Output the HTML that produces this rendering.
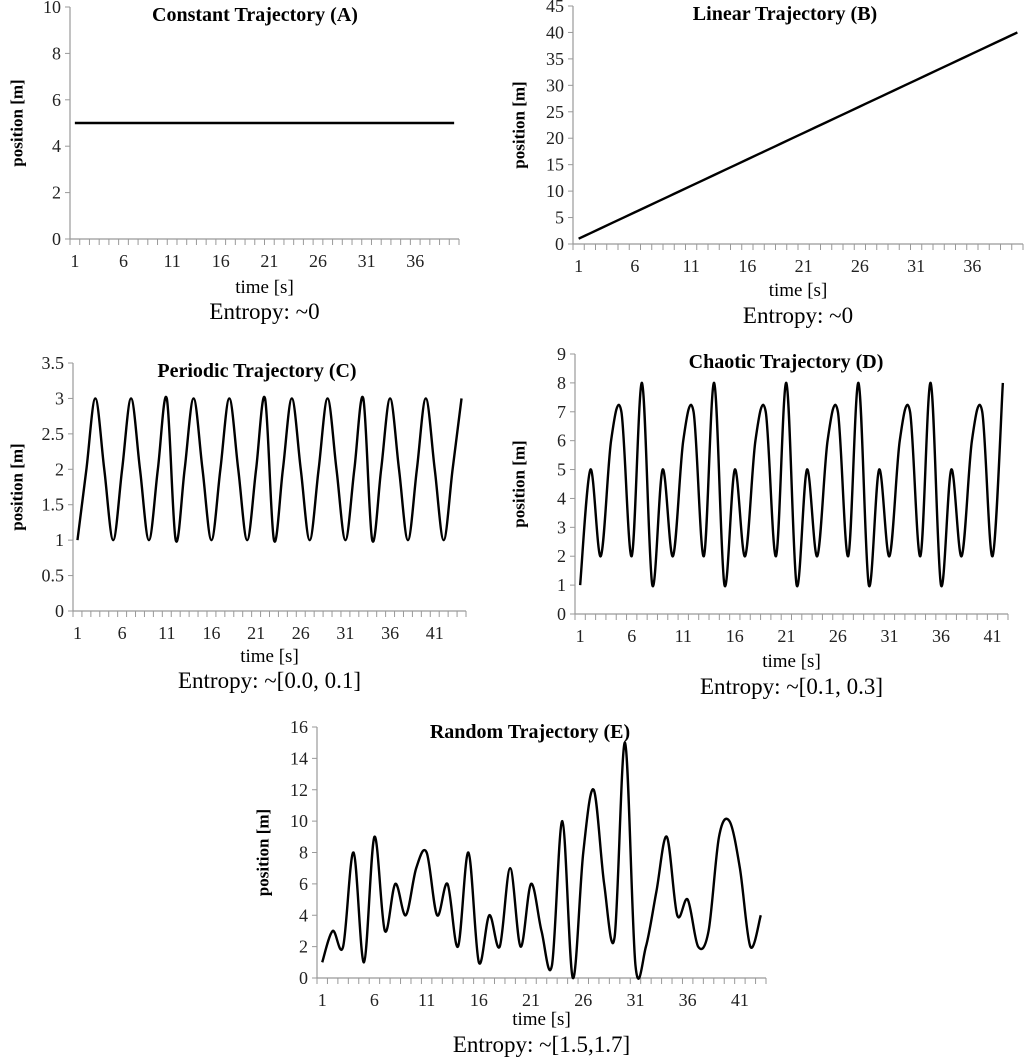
<!DOCTYPE html>
<html><head><meta charset="utf-8">
<style>
html,body{margin:0;padding:0;background:#fff;}
svg{display:block;font-family:"Liberation Serif",serif;}
</style></head>
<body>
<svg id="fig" width="1024" height="1058" viewBox="0 0 1024 1058" xmlns="http://www.w3.org/2000/svg"></svg>
<script>
// ---- data ----
const valuesA = [5,5,5,5,5,5,5,5,5,5,5,5,5,5,5,5,5,5,5,5,5,5,5,5,5,5,5,5,5,5,5,5,5,5,5,5,5,5,5,5];
const ticksA = [0,2,4,6,8,10];
const valuesB = [1,2,3,4,5,6,7,8,9,10,11,12,13,14,15,16,17,18,19,20,21,22,23,24,25,26,27,28,29,30,31,32,33,34,35,36,37,38,39,40];
const ticksB = [0,5,10,15,20,25,30,35,40,45];
const valuesC = [1,2,3,2,1,2,3,2,1,2,3, 1,2,3,2,1,2,3,2,1,2,3, 1,2,3,2,1,2,3,2,1,2,3, 1,2,3,2,1,2,3,2,1,2,3];
const ticksC = [0,0.5,1,1.5,2,2.5,3,3.5];
const valuesD = [1,5,2,6,7,2,8, 1,5,2,6,7,2,8, 1,5,2,6,7,2,8, 1,5,2,6,7,2,8, 1,5,2,6,7,2,8, 1,5,2,6,7,2,8];
const ticksD = [0,1,2,3,4,5,6,7,8,9];
const valuesE = [1,3,2,8,1,9,3,6,4,7,8,4,6,2,8,1,4,2,7,2,6,3,0.8,10,0,8,12,6,2.6,15,0.8,2,5.5,9,4,5,2,3,9,10,7,2,4];
const ticksE = [0,2,4,6,8,10,12,14,16];
const xLabelStep = 5;

const charts = [
 {id:'a', title:'Constant Trajectory (A)', entropy:'Entropy: ~0', vals:valuesA, ticks:ticksA, x0:70, x1:459, yTop:7, yBot:239, ylx:17, titleX:255, titleY:21, timeY:293, entY:319},
 {id:'b', title:'Linear Trajectory (B)', entropy:'Entropy: ~0', vals:valuesB, ticks:ticksB, x0:573, x1:1023, yTop:6, yBot:244, ylx:519, titleX:785, titleY:20, timeY:296, entY:323},
 {id:'c', title:'Periodic Trajectory (C)', entropy:'Entropy: ~[0.0, 0.1]', vals:valuesC, ticks:ticksC, x0:73, x1:466, yTop:363, yBot:611, ylx:17, titleX:257, titleY:377, timeY:662, entY:688},
 {id:'d', title:'Chaotic Trajectory (D)', entropy:'Entropy: ~[0.1, 0.3]', vals:valuesD, ticks:ticksD, x0:575, x1:1008, yTop:354, yBot:614, ylx:519, titleX:786, titleY:368, timeY:667, entY:694},
 {id:'e', title:'Random Trajectory (E)', entropy:'Entropy: ~[1.5,1.7]', vals:valuesE, ticks:ticksE, x0:317, x1:766, yTop:727, yBot:978, ylx:263, titleX:530, titleY:738, timeY:1025, entY:1052}
];

const NS='http://www.w3.org/2000/svg';
const svg=document.getElementById('fig');
function mk(tag,attrs,parent){const e=document.createElementNS(NS,tag);for(const k in attrs)e.setAttribute(k,attrs[k]);(parent||svg).appendChild(e);return e;}

charts.forEach(c=>{
  const g=mk('g',{});
  
  
  const n=c.vals.length;
  const band=(c.x1-c.x0)/n;
  const xs=i=>c.x0+band*(i+0.5);
  const yMax=c.ticks[c.ticks.length-1];
  const ys=v=>c.yBot-(v/yMax)*(c.yBot-c.yTop);
  const ya=mk('line',{x1:c.x0,y1:c.yTop,x2:c.x0,y2:c.yBot,stroke:'#999','stroke-width':1.2},g);
  
  
  const xa=mk('line',{x1:c.x0,y1:c.yBot,x2:c.x1,y2:c.yBot,stroke:'#999','stroke-width':1.2},g);
  
  
  c.ticks.forEach(t=>{
    mk('line',{x1:c.x0-5,y1:ys(t),x2:c.x0,y2:ys(t),stroke:'#999'},g);
    const tl=mk('text',{x:c.x0-9,y:ys(t)+6,'text-anchor':'end','font-size':18,fill:'#222'},g);
    tl.textContent=String(t);
    
    
  });
  for(let i=0;i<=n;i++){
    mk('line',{x1:c.x0+band*i,y1:c.yBot,x2:c.x0+band*i,y2:c.yBot+6,stroke:'#999'},g);
  }
  for(let i=0;i<n;i+=xLabelStep){
    const tl=mk('text',{x:xs(i),y:c.yBot+28,'text-anchor':'middle','font-size':18,fill:'#222'},g);
    tl.textContent=String(i+1);
    
    
  }
  const pts=c.vals.map((v,i)=>[xs(i),ys(v)]);
  let d='M'+pts[0][0].toFixed(2)+','+pts[0][1].toFixed(2);
  for(let i=0;i<pts.length-1;i++){
    const p0=pts[Math.max(0,i-1)],p1=pts[i],p2=pts[i+1],p3=pts[Math.min(pts.length-1,i+2)];
    const t=1/6;
    const c1=[p1[0]+(p2[0]-p0[0])*t,p1[1]+(p2[1]-p0[1])*t];
    const c2=[p2[0]-(p3[0]-p1[0])*t,p2[1]-(p3[1]-p1[1])*t];
    d+=' C'+c1[0].toFixed(2)+','+c1[1].toFixed(2)+' '+c2[0].toFixed(2)+','+c2[1].toFixed(2)+' '+p2[0].toFixed(2)+','+p2[1].toFixed(2);
  }
  const path=mk('path',{d:d,fill:'none',stroke:'#000','stroke-width':2.4,'stroke-linejoin':'round'},g);
  
  
  const ti=mk('text',{x:c.titleX,y:c.titleY,'text-anchor':'middle','font-size':20,'font-weight':'bold',fill:'#000'},g);
  ti.textContent=c.title;
  
  
  const ymid=(c.yTop+c.yBot)/2;
  const yl=mk('text',{x:c.ylx,y:ymid,'text-anchor':'middle','font-size':17,'font-weight':'bold',fill:'#000',transform:'rotate(-90 '+c.ylx+' '+ymid+')','dominant-baseline':'central'},g);
  yl.textContent='position [m]';
  
  
  const xmid=(c.x0+c.x1)/2;
  const xl=mk('text',{x:xmid,y:c.timeY,'text-anchor':'middle','font-size':19,fill:'#000'},g);
  xl.textContent='time [s]';
  
  
  const en=mk('text',{x:xmid,y:c.entY,'text-anchor':'middle','font-size':23,fill:'#000'},g);
  en.textContent=c.entropy;
  
  
});
</script>
</body></html>
